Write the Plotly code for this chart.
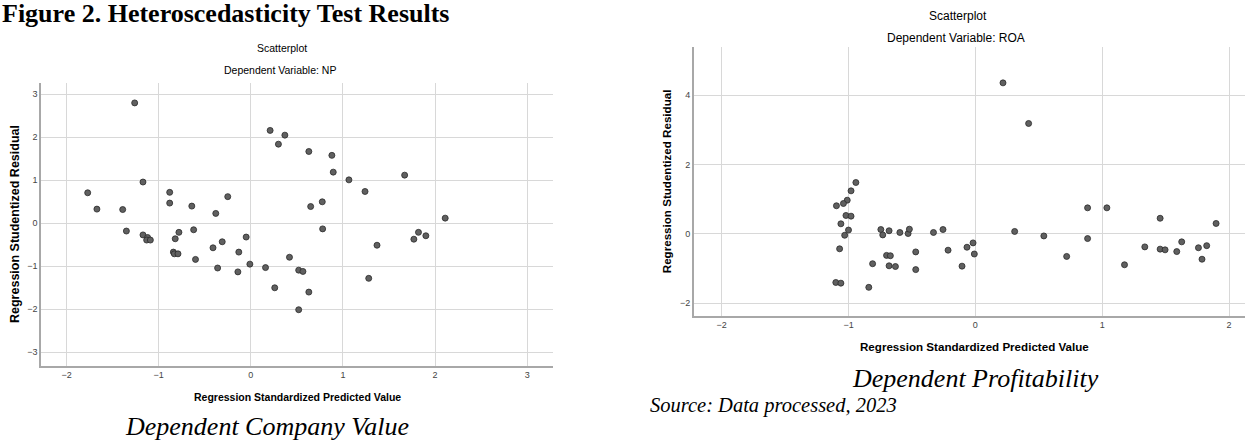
import plotly.graph_objects as go

# ---- data ----
np_pred = [-1.26, -1.77, -1.67, -1.39, -1.35, -1.17, -1.17, -1.12, -1.13, -1.09,
           -0.88, -0.88, -0.82, -0.78, -0.84, -0.83, -0.79, -0.64, -0.62, -0.60,
           -0.38, -0.41, -0.31, -0.36, -0.25, -0.13, -0.05, -0.14, -0.01, 0.16,
           0.21, 0.30, 0.37, 0.26, 0.42, 0.52, 0.52, 0.63, 0.88, 0.895,
           1.065, 1.24, 1.67, 0.65, 0.776, 0.78, 2.11, 1.82, 1.77, 1.90,
           1.37, 0.566, 1.28, 0.63]
np_resid = [2.80, 0.71, 0.33, 0.32, -0.18, 0.96, -0.27, -0.33, -0.39, -0.39,
            0.72, 0.47, -0.36, -0.21, -0.67, -0.71, -0.71, 0.40, -0.15, -0.84,
            0.23, -0.57, -0.43, -1.04, 0.62, -0.67, -0.32, -1.13, -0.95, -1.03,
            2.16, 1.84, 2.05, -1.50, -0.79, -1.09, -2.01, 1.67, 1.58, 1.19,
            1.01, 0.74, 1.12, 0.39, 0.50, -0.13, 0.12, -0.21, -0.37, -0.29,
            -0.51, -1.12, -1.28, -1.60]

roa_pred = [-0.942, -0.98, -1.01, -1.04, -1.095, -1.02, -0.98, -1.06, -1.00, -1.03,
            -1.07, -1.10, -1.06, -0.84, -0.81, -0.745, -0.73, -0.68, -0.70, -0.67,
            -0.68, -0.63, -0.595, -0.53, -0.52, -0.47, -0.47, -0.33, -0.255, -0.215,
            -0.105, -0.066, -0.018, -0.008, 0.218, 0.42, 0.31, 0.54, 0.72, 0.885,
            0.885, 1.037, 1.176, 1.336, 1.457, 1.457, 1.496, 1.588, 1.627, 1.759,
            1.787, 1.824, 1.898]
roa_resid = [1.48, 1.24, 0.97, 0.875, 0.81, 0.53, 0.51, 0.29, 0.11, -0.04,
             -0.43, -1.40, -1.42, -1.54, -0.86, 0.125, -0.03, 0.09, -0.62, -0.63,
             -0.92, -0.94, 0.04, 0.01, 0.135, -0.52, -1.03, 0.04, 0.125, -0.47,
             -0.93, -0.385, -0.26, -0.58, 4.35, 3.18, 0.07, -0.06, -0.65, 0.75,
             -0.135, 0.75, -0.89, -0.375, 0.45, -0.44, -0.46, -0.51, -0.23, -0.40,
             -0.73, -0.34, 0.30]

left_xticks = [-2, -1, 0, 1, 2, 3]
left_yticks = [-3, -2, -1, 0, 1, 2, 3]
right_xticks = [-2, -1, 0, 1, 2]
right_yticks = [-2, 0, 2, 4]

W, H = 1245, 443
def px(x):
    return x / W
def py(y):
    return 1 - y / H

marker = dict(size=6, color="#606060", line=dict(color="#2a2a2a", width=0.8))

fig = go.Figure()
fig.add_trace(go.Scatter(x=np_pred, y=np_resid, mode="markers", marker=marker,
                         xaxis="x", yaxis="y", showlegend=False))
fig.add_trace(go.Scatter(x=roa_pred, y=roa_resid, mode="markers", marker=marker,
                         xaxis="x2", yaxis="y2", showlegend=False))

grid = "#d8d8d8"
axline = "#a8a8a8"
tickfont = dict(family="Liberation Sans, Arial", size=9, color="#444444")

common = dict(showgrid=True, gridcolor=grid, gridwidth=1, zeroline=False,
              showline=True, linecolor=axline, linewidth=1.5, ticks="",
              tickfont=tickfont, fixedrange=True)

fig.update_layout(
    width=W, height=H,
    margin=dict(l=0, r=0, t=0, b=0),
    paper_bgcolor="white", plot_bgcolor="white",
    hovermode=False,
    xaxis=dict(domain=[px(40.7), px(553)], range=[-2.28, 3.28],
               tickvals=left_xticks, anchor="y", **common),
    yaxis=dict(domain=[py(366), py(83)], range=[-3.319, 3.263],
               tickvals=left_yticks, anchor="x", **common),
    xaxis2=dict(domain=[px(693.5), 1.0], range=[-2.222, 2.126],
                tickvals=right_xticks, anchor="y2", **common),
    yaxis2=dict(domain=[py(316), py(46.7)], range=[-2.366, 5.392],
                tickvals=right_yticks, anchor="x2", **common),
)

sans = "Liberation Sans, Arial"
serif = "Liberation Serif, Times New Roman"

def ann(text, x, y, size, family=sans, xanchor="center", angle=0):
    fig.add_annotation(text=text, x=px(x), y=py(y), xref="paper", yref="paper",
                       xanchor=xanchor, yanchor="middle", showarrow=False,
                       textangle=angle,
                       font=dict(family=family, size=size, color="black"))

ann("<b>Figure 2. Heteroscedasticity Test Results</b>", 0, 13, 26, serif, "left")
ann("Scatterplot", 281.7, 48, 10.5)
ann("Dependent Variable: NP", 280, 70, 10.5)
ann("Scatterplot", 958, 16, 12)
ann("Dependent Variable: ROA", 956, 38.3, 12)
ann("<b>Regression Standardized Predicted Value</b>", 297.5, 397, 10.5)
ann("<b>Regression Studentized Residual</b>", 15, 224, 12.5, angle=-90)
ann("<b>Regression Standardized Predicted Value</b>", 974.7, 346.7, 11.6)
ann("<b>Regression Studentized Residual</b>", 666.7, 181.5, 11.6, angle=-90)
ann("<i>Dependent Company Value</i>", 267, 426, 26, serif)
ann("<i>Dependent Profitability</i>", 975.5, 378, 26, serif)
ann("<i>Source: Data processed, 2023</i>", 648, 405, 20.5, serif, "left")

fig.write_html("out.html",
               config={"displayModeBar": False, "staticPlot": True},
               post_script="document.body.style.margin='0px';"
                           "document.body.style.overflow='hidden';")
